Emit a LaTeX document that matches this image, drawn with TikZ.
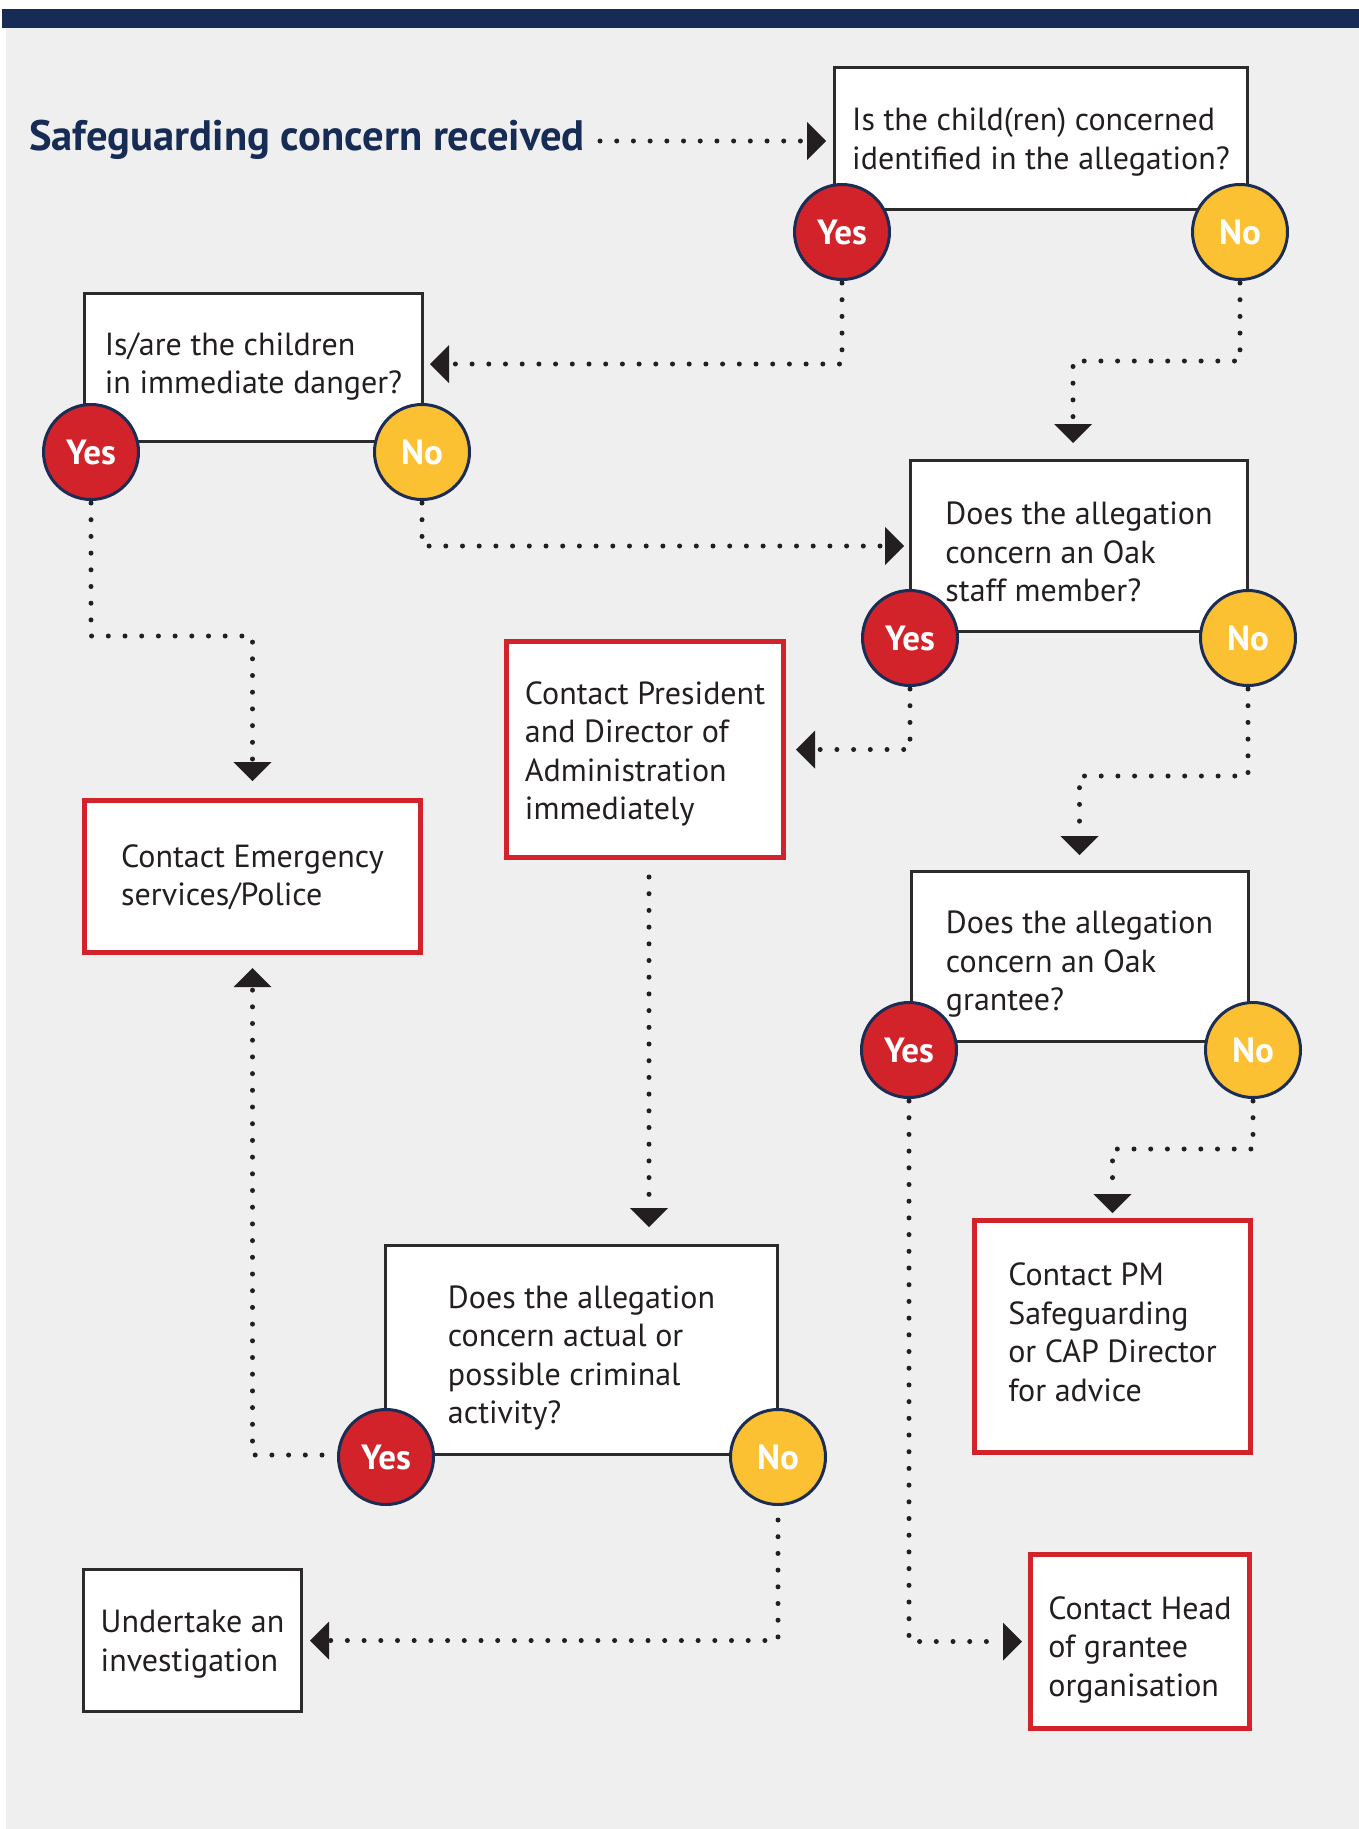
\documentclass[tikz,border=0pt]{standalone}
\usepackage{fontspec}
\setmainfont{PT Sans}
\usetikzlibrary{arrows.meta,calc}
\definecolor{navy}{HTML}{172C54}
\definecolor{bggray}{HTML}{EFEFEF}
\definecolor{yesred}{HTML}{D2232A}
\definecolor{noyellow}{HTML}{FBC133}
\definecolor{circnavy}{HTML}{1B2C55}
\definecolor{boxline}{HTML}{2D2A2B}
\definecolor{redline}{HTML}{D2232A}
\definecolor{ink}{HTML}{231F20}
\newcommand\boxfont{\fontsize{32}{38.5}\selectfont}
\newcommand\ynfont{\bfseries\fontsize{35}{35}\selectfont}
\newcommand\titlefont{\bfseries\fontsize{42.6}{42.6}\selectfont}
\begin{document}
\begin{tikzpicture}[x=1pt,y=-1pt,
  box/.style={draw=boxline, line width=3pt, fill=white, rectangle, inner sep=0pt},
  redbox/.style={box, draw=redline, line width=5pt},
  boxtext/.style={align=left, inner sep=0pt, font=\boxfont, text=ink},
  yes/.style={circle, fill=yesred, draw=circnavy, line width=3pt, minimum size=95pt, inner sep=0pt, font=\ynfont, text=white},
  no/.style={yes, fill=noyellow},
  flow/.style={draw=ink, line width=5pt, line cap=round, dash pattern=on 0pt off 16.7pt, -{Triangle[length=19pt,width=38pt,line width=0pt]}},
]
\useasboundingbox (0,0) rectangle (1359,1829);
\fill[white] (0,0) rectangle (1359,1829);
\fill[bggray] (6,28) rectangle (1359,1829);
\fill[navy] (2,9) rectangle (1359,28);

% title
\node[anchor=base west, font=\titlefont, text=navy, inner sep=0pt] (title) at (29,150) {Safeguarding concern received};

% boxes
\node[box, minimum width=413pt, minimum height=142pt] (box1) at (1041,138.5) {};
\node[box, minimum width=338pt, minimum height=148pt] (box2) at (253.5,367.5) {};
\node[box, minimum width=337pt, minimum height=171pt] (box3) at (1079,546) {};
\node[box, minimum width=337pt, minimum height=170pt] (box4) at (1079.5,956.5) {};
\node[box, minimum width=392pt, minimum height=209pt] (box5) at (581.5,1350) {};
\node[box, minimum width=218pt, minimum height=142pt] (undertake) at (192.5,1640.5) {};
\node[redbox, minimum width=336pt, minimum height=152pt] (emerg) at (252.5,876.5) {};
\node[redbox, minimum width=277pt, minimum height=216pt] (pres) at (645,749.5) {};
\node[redbox, minimum width=276pt, minimum height=232pt] (pm) at (1112.5,1336.5) {};
\node[redbox, minimum width=219pt, minimum height=174pt] (head) at (1140,1641.5) {};

% box texts
\node[boxtext] (box1t) at ([yshift=-3.5pt]box1.center) {Is the child(ren) concerned\\identified in the allegation?};
\node[boxtext] (box2t) at ([yshift=1pt]box2.center) {Is/are the children\\in immediate danger?};
\node[boxtext] (box3t) at ([yshift=-6pt]box3.center) {Does the allegation\\concern an Oak\\staff member?};
\node[boxtext] (box4t) at ([yshift=-8pt]box4.center) {Does the allegation\\concern an Oak\\grantee?};
\node[boxtext] (box5t) at ([yshift=-8pt]box5.center) {Does the allegation\\concern actual or\\possible criminal\\activity?};
\node[boxtext] (undertaket) at ([yshift=-3.5pt]undertake.center) {Undertake an\\investigation};
\node[boxtext] (emergt) at ([yshift=-1pt]emerg.center) {Contact Emergency\\services/Police};
\node[boxtext] (prest) at ([yshift=-4.5pt]pres.center) {Contact President\\and Director of\\Administration\\immediately};
\node[boxtext] (pmt) at ([yshift=4pt]pm.center) {Contact PM\\Safeguarding\\or CAP Director\\for advice};
\node[boxtext] (headt) at ([yshift=-8pt]head.center) {Contact Head\\of grantee\\organisation};

% yes / no circles
\node[yes] (yes1) at (842,232) {Yes};
\node[no]  (no1)  at (1240,232) {No};
\node[yes] (yes2) at (91,452) {Yes};
\node[no]  (no2)  at (422,452) {No};
\node[yes] (yes3) at (910,638) {Yes};
\node[no]  (no3)  at (1248,638) {No};
\node[yes] (yes4) at (909,1050) {Yes};
\node[no]  (no4)  at (1253,1050) {No};
\node[yes] (yes5) at (386,1457) {Yes};
\node[no]  (no5)  at (778,1457) {No};

% connectors
\draw[flow, shorten >=7pt] ([xshift=15pt,yshift=9pt]title.base east) -- ([yshift=9pt]title.base east -| box1.west);
\draw[flow] ([yshift=-2pt]yes1.south) |- ([xshift=6pt,yshift=3.5pt]box2.east);
\draw[flow] ([yshift=-2pt]no1.south) -- ++(0,78) -| ([xshift=-6pt,yshift=16pt]box3.north);
\draw[flow] ([yshift=-2pt]yes2.south) -- ++(0,133) -| ([yshift=17pt]emerg.north);
\draw[flow] ([yshift=-2pt]no2.south) |- ([xshift=-5pt]box3.west);
\draw[flow] ([yshift=-2pt]yes3.south) |- ([xshift=10pt]pres.east);
\draw[flow] ([yshift=-2pt]no3.south) -- ++(0,87) -| ([yshift=15pt]box4.north);
\draw[flow] ([yshift=-2pt]no4.south) -- ++(0,48) -| ([yshift=5pt]pm.north);
\draw[flow] ([yshift=-2pt]yes4.south) |- ([xshift=-6pt]head.west);
\draw[flow, shorten >=17pt] ([xshift=4pt,yshift=-17pt]pres.south) -- ([xshift=4pt]pres.south |- box5.north);
\draw[flow] ([xshift=-15pt,yshift=2pt]yes5.west) -| ([yshift=-13pt]emerg.south);
\draw[flow] ([yshift=-14pt]no5.south) |- ([xshift=7pt]undertake.east);
\end{tikzpicture}
\end{document}
